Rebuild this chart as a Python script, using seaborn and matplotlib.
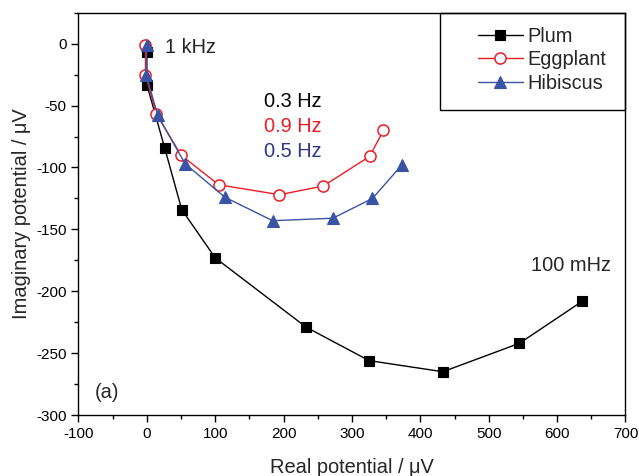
import matplotlib
matplotlib.use("Agg")
import matplotlib.pyplot as plt
from matplotlib.patches import Rectangle
from matplotlib.ticker import MultipleLocator
import numpy as np
import pandas as pd
import seaborn as sns

# Nyquist data: real vs imaginary potential (µV)
plum_re = [0, 0, 26, 51, 100, 233, 325, 433, 545, 637]
plum_im = [-7, -33, -84, -134, -173, -229, -256, -265, -242, -208]

eggplant_re = [-2, -2, 14, 50, 105, 194, 258, 326, 346]
eggplant_im = [-1, -25, -57, -90, -114, -122, -115, -91, -70]

hibiscus_re = [0, -1, 16, 56, 114, 184, 272, 330, 373]
hibiscus_im = [-1, -25, -58, -97, -124, -143, -141, -125, -98]

series_names = ["Plum", "Eggplant", "Hibiscus"]

sns.set_theme(style="ticks")
plt.rcParams["font.family"] = ["Liberation Sans", "DejaVu Sans"]
plt.rcParams["axes.unicode_minus"] = False

df = pd.concat([
    pd.DataFrame({"re": plum_re, "im": plum_im, "sample": series_names[0]}),
    pd.DataFrame({"re": eggplant_re, "im": eggplant_im, "sample": series_names[1]}),
    pd.DataFrame({"re": hibiscus_re, "im": hibiscus_im, "sample": series_names[2]}),
], ignore_index=True)

RED = "#ee1c25"
BLUE = "#3a53a4"
styles = {
    "Plum": dict(color="black", marker="s", markersize=6.5, markerfacecolor="black",
                 markeredgecolor="black", markeredgewidth=0.8),
    "Eggplant": dict(color=RED, marker="o", markersize=8, markerfacecolor="white",
                     markeredgecolor=RED, markeredgewidth=1.1),
    "Hibiscus": dict(color=BLUE, marker="^", markersize=9, markerfacecolor=BLUE,
                     markeredgecolor=BLUE, markeredgewidth=0.8),
}

FS = 14.4

fig = plt.figure(figsize=(6.39, 4.76), dpi=100)
ax = fig.add_axes([0.1228, 0.128, 0.8560, 0.8453])

for name in series_names:
    sub = df[df["sample"] == name]
    sns.lineplot(data=sub, x="re", y="im", ax=ax, sort=False, estimator=None,
                 linewidth=1.0, label=name, **styles[name])

ax.set_xlim(-100, 700)
ax.set_ylim(-300, 25)
ax.xaxis.set_major_locator(MultipleLocator(100))
ax.xaxis.set_minor_locator(MultipleLocator(50))
ax.yaxis.set_major_locator(MultipleLocator(50))
ax.yaxis.set_minor_locator(MultipleLocator(25))
ax.tick_params(which="both", direction="out", top=False, right=False,
               labelsize=11, colors="black")
ax.tick_params(which="major", length=5, width=1)
ax.tick_params(which="minor", length=3, width=1)
for sp in ax.spines.values():
    sp.set_visible(True)
    sp.set_color("black")
    sp.set_linewidth(1.0)

ax.set_xlabel("Real potential / \u03bcV", fontsize=FS, labelpad=12)
ax.set_ylabel("Imaginary potential / \u03bcV", fontsize=FS, labelpad=4)

# frequency annotations
ax.text(26, -3, "1 kHz", fontsize=FS, va="center", ha="left")
ax.text(172, -47, "0.3 Hz", fontsize=FS, va="center", ha="left", color="black")
ax.text(172, -67, "0.9 Hz", fontsize=FS, va="center", ha="left", color=RED)
ax.text(172, -87.5, "0.5 Hz", fontsize=FS, va="center", ha="left", color="#2e3886")
ax.text(562, -179, "100 mHz", fontsize=FS, va="center", ha="left")
ax.text(-76, -281.5, "(a)", fontsize=FS, va="center", ha="left")

# legend with a square black frame in the upper-right corner
leg = ax.legend(loc="upper left", bbox_to_anchor=(0.73, 0.965), frameon=False,
                fontsize=FS, handlelength=2.25, handletextpad=0.25,
                labelspacing=0.22, borderpad=0, borderaxespad=0)
ax.add_patch(Rectangle((0.661, 0.758), 1 - 0.661, 1 - 0.758, transform=ax.transAxes,
                       fill=False, edgecolor="black", linewidth=1.0, zorder=5,
                       clip_on=False))

fig.savefig("out.png", dpi=100)
